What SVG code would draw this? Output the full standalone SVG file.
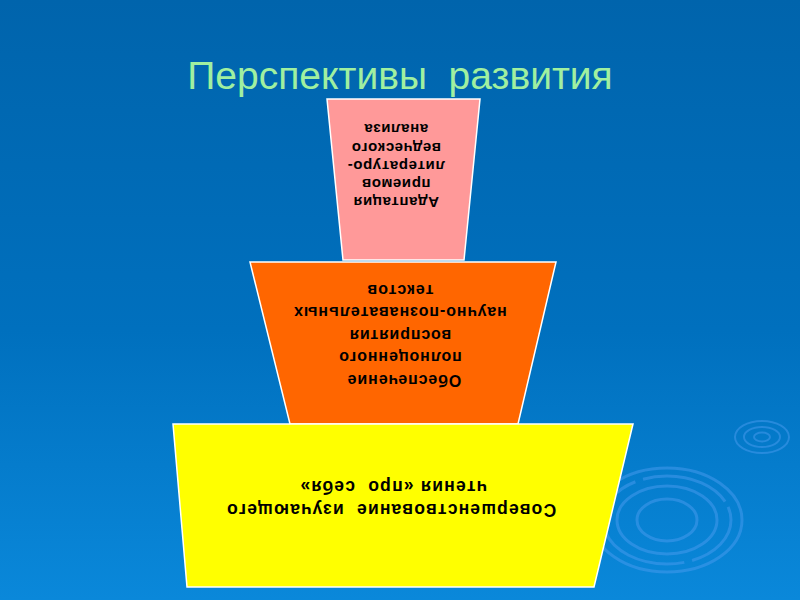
<svg xmlns="http://www.w3.org/2000/svg" width="800" height="600" viewBox="0 0 800 600">
<defs>
<linearGradient id="bg" x1="0" y1="0" x2="0" y2="1">
<stop offset="0" stop-color="#0064AC"/>
<stop offset="0.55" stop-color="#0070BE"/>
<stop offset="1" stop-color="#0A88DA"/>
</linearGradient>
</defs>
<style>
.t{font-family:"Liberation Sans",Arial,sans-serif;font-weight:bold;fill:#000;text-anchor:middle;dominant-baseline:central}
.shape{stroke:#FFFFFF;stroke-width:1.5}
.rip{fill:none;stroke:#4A9CF0;stroke-opacity:0.5}
</style>
<rect x="0" y="0" width="800" height="600" fill="url(#bg)"/>
<g id="ripples">
<ellipse class="rip" cx="667" cy="520" rx="75" ry="52" stroke-width="3"/>
<ellipse class="rip" cx="667" cy="520" rx="64" ry="44" stroke-width="3" stroke-dasharray="60 8 90 6"/>
<ellipse class="rip" cx="667" cy="520" rx="50" ry="34" stroke-width="3"/>
<ellipse class="rip" cx="667" cy="520" rx="30" ry="21" stroke-width="3"/>
<ellipse class="rip" cx="762" cy="437" rx="27" ry="16" stroke-width="2"/>
<ellipse class="rip" cx="762" cy="437" rx="18" ry="10" stroke-width="2"/>
<ellipse class="rip" cx="762" cy="437" rx="8" ry="4.5" stroke-width="2"/>
</g>
<g id="title">
<text x="400" y="89" font-family="'Liberation Sans',Arial,sans-serif" font-size="39" fill="#A0F0A0" text-anchor="middle" xml:space="preserve">Перспективы  развития</text>
</g>
<g id="node-top">
<polygon class="shape" points="327,99 480,99 464,260 343,260" fill="#FF9999"/>
<text class="t" font-size="15" letter-spacing="0.6" x="396" y="202" transform="rotate(180 396 202)">Адаптация</text>
<text class="t" font-size="15" letter-spacing="0.6" x="396" y="184" transform="rotate(180 396 184)">приемов</text>
<text class="t" font-size="15" letter-spacing="0.6" x="396" y="166" transform="rotate(180 396 166)">литературо-</text>
<text class="t" font-size="15" letter-spacing="0.6" x="396" y="148" transform="rotate(180 396 148)">ведческого</text>
<text class="t" font-size="15" letter-spacing="0.6" x="396" y="129" transform="rotate(180 396 129)">анализа</text>
</g>
<g id="node-middle">
<polygon class="shape" points="250,262 556,262 518,424 290,424" fill="#FF6600"/>
<text class="t" font-size="16" letter-spacing="0.9" x="404" y="380" transform="rotate(180 404 380)">Обеспечение</text>
<text class="t" font-size="16" letter-spacing="0.9" x="400" y="357" transform="rotate(180 400 357)">полноценного</text>
<text class="t" font-size="16" letter-spacing="0.9" x="400" y="335" transform="rotate(180 400 335)">восприятия</text>
<text class="t" font-size="16" letter-spacing="0.9" x="400" y="312" transform="rotate(180 400 312)">научно-познавательных</text>
<text class="t" font-size="16" letter-spacing="0.9" x="400" y="290" transform="rotate(180 400 290)">текстов</text>
</g>
<g id="node-bottom">
<polygon class="shape" points="173,424 633,424 594,587 187,587" fill="#FFFF00"/>
<text class="t" font-size="17.5" letter-spacing="1.2" x="391" y="510" transform="rotate(180 391 510)" xml:space="preserve">Совершенствование  изучающего</text>
<text class="t" font-size="17.5" letter-spacing="1.2" x="393" y="487" transform="rotate(180 393 487)" xml:space="preserve">чтения «про  себя»</text>
</g>
</svg>
